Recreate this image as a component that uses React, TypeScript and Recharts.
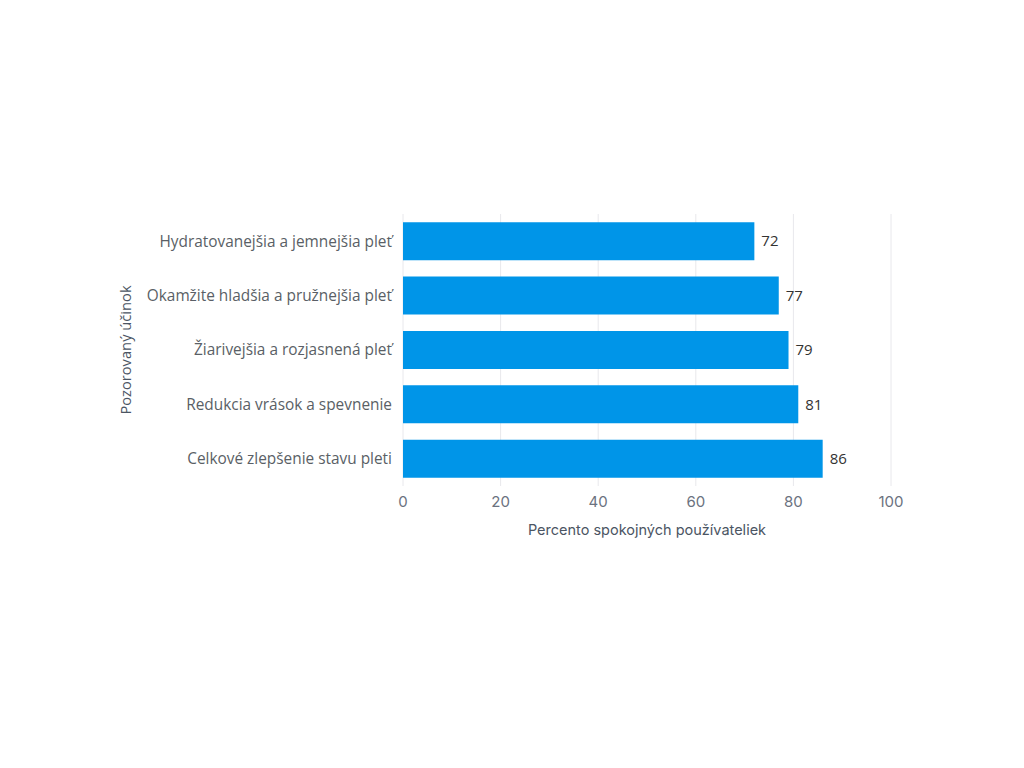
import { Bar, BarChart, CartesianGrid, LabelList, XAxis, YAxis } from "recharts";

const categories = [
  "Hydratovanejšia a jemnejšia pleť",
  "Okamžite hladšia a pružnejšia pleť",
  "Žiarivejšia a rozjasnená pleť",
  "Redukcia vrások a spevnenie",
  "Celkové zlepšenie stavu pleti",
];
const satisfied = [72, 77, 79, 81, 86];
const xTicks = [0, 20, 40, 60, 80, 100];

const data = categories.map((name, i) => ({ name, value: satisfied[i] }));

const BAR_COLOR = "#0095e8";

export default function App() {
  return (
    <div style={{ position: "absolute", left: 0, top: 0, background: "#fff" }}>
      <BarChart
        width={1024}
        height={768}
        data={data}
        layout="vertical"
        margin={{ top: 214, right: 133, bottom: 222, left: 110 }}
        barCategoryGap="15%"
      >
        <CartesianGrid horizontal={false} stroke="#e8e8ec" />
        <XAxis
          type="number"
          domain={[0, 100]}
          ticks={xTicks}
          tickLine={false}
          axisLine={false}
          tickMargin={4}
          height={60}
          tick={{ fill: "#6b7280", fontSize: 15, fontFamily: "Inter" }}
          label={{
            value: "Percento spokojných používateliek",
            position: "insideBottom",
            offset: 11,
            fill: "#4b5563",
            fontSize: 14.5,
            fontFamily: "Inter",
          }}
        />
        <YAxis
          type="category"
          dataKey="name"
          width={293}
          tickLine={false}
          axisLine={false}
          tickMargin={5}
          tick={{ fill: "#5a5f66", fontSize: 15.4, fontFamily: "Open Sans" }}
          label={{
            value: "Pozorovaný účinok",
            content: (props: any) => {
              const vb = props.viewBox || {};
              const cx = vb.x + 15;
              const cy = vb.y + vb.height / 2;
              return (
                <text
                  x={cx}
                  y={cy}
                  transform={`rotate(-90 ${cx} ${cy})`}
                  textAnchor="middle"
                  dominantBaseline="central"
                  fill="#4b5563"
                  fontSize={14.7}
                  fontFamily="Open Sans"
                >
                  Pozorovaný účinok
                </text>
              );
            },
          }}
        />
        <Bar dataKey="value" fill={BAR_COLOR} isAnimationActive={false}>
          <LabelList
            dataKey="value"
            position="right"
            offset={7}
            fill="#333"
            fontSize={15}
            fontFamily="Open Sans"
          />
        </Bar>
      </BarChart>
    </div>
  );
}
